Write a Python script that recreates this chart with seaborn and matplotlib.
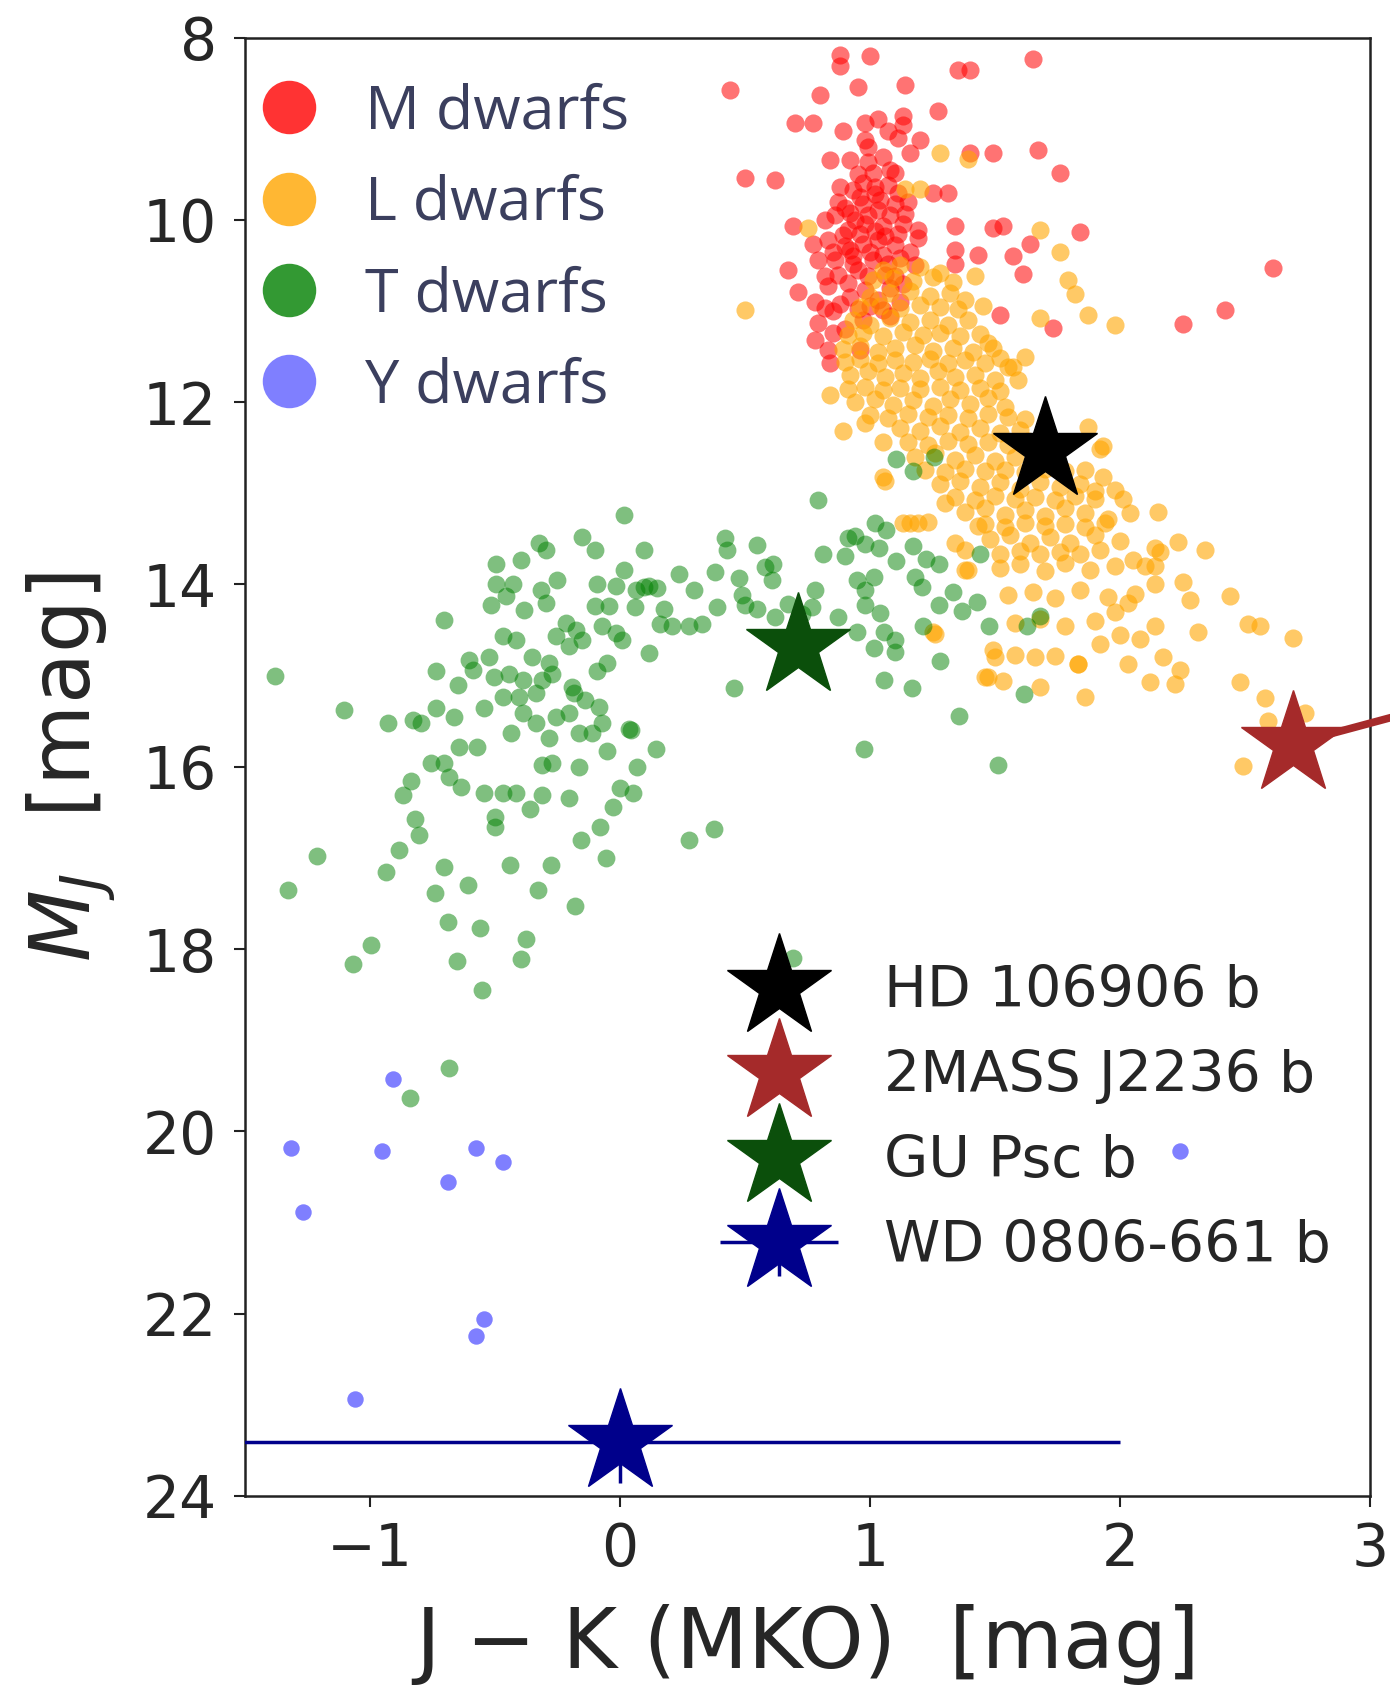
import numpy as np
import pandas as pd
import matplotlib
matplotlib.use("Agg")
import matplotlib.pyplot as plt
from matplotlib.lines import Line2D
from matplotlib.legend_handler import HandlerErrorbar
import seaborn as sns

# (J-K, M_J) pairs for the field populations
m_dwarfs = [
    (0.44, 8.57), (0.88, 8.19), (0.88, 8.31), (1.00, 8.20), (1.35, 8.36), (1.40, 8.36), (1.65, 8.24),
    (0.80, 8.63), (0.95, 8.54), (1.14, 8.52), (1.27, 8.81), (0.70, 8.94), (0.77, 8.94), (0.89, 9.02),
    (0.98, 8.94), (1.03, 8.89), (1.13, 8.86), (1.13, 8.96), (1.07, 9.02), (1.11, 9.10), (1.20, 9.12),
    (0.98, 9.12), (0.99, 9.20), (1.16, 9.27), (1.40, 9.27), (1.49, 9.27), (1.67, 9.23), (1.76, 9.49),
    (0.50, 9.54), (0.62, 9.56), (0.84, 9.34), (0.92, 9.34), (0.99, 9.36), (1.05, 9.31), (1.10, 9.49),
    (1.01, 9.49), (0.88, 9.64), (0.93, 9.67), (0.97, 9.60), (1.02, 9.64), (1.07, 9.62), (1.11, 9.71),
    (1.25, 9.71), (1.31, 9.71), (0.90, 9.87), (0.97, 9.83), (1.03, 9.89), (1.10, 9.83), (1.14, 9.93),
    (0.96, 9.75), (1.04, 9.78), (0.99, 9.95), (0.69, 10.07), (0.82, 10.00), (0.91, 10.11), (0.98, 10.04),
    (1.05, 10.07), (1.11, 10.15), (1.19, 10.11), (0.94, 10.00), (1.06, 10.18), (1.34, 10.07), (1.49, 10.09),
    (1.53, 10.07), (1.64, 10.26), (1.84, 10.13), (0.77, 10.26), (0.83, 10.22), (0.90, 10.29), (0.97, 10.26),
    (1.03, 10.22), (1.10, 10.27), (1.00, 10.35), (0.93, 10.40), (0.67, 10.55), (0.79, 10.44), (0.86, 10.44),
    (0.93, 10.48), (1.01, 10.44), (1.07, 10.48), (0.95, 10.55), (1.06, 10.60), (0.87, 10.60), (1.34, 10.33),
    (1.43, 10.39), (1.34, 10.48), (1.57, 10.40), (1.61, 10.59), (1.18, 10.50), (1.19, 10.20), (1.16, 10.35),
    (0.71, 10.79), (0.83, 10.73), (0.91, 10.69), (0.98, 10.77), (1.03, 10.88), (1.10, 10.62), (1.08, 10.75),
    (0.92, 10.85), (1.12, 10.90), (0.88, 10.92), (1.00, 10.95), (1.52, 11.04), (1.73, 11.19), (0.79, 11.13),
    (0.85, 11.00), (0.85, 11.24), (0.97, 11.10), (1.05, 10.99), (0.83, 11.43), (0.84, 11.57), (0.96, 11.43),
    (0.82, 10.97), (2.61, 10.53), (2.42, 10.99), (2.25, 11.14),
    (0.86, 9.95), (0.92, 9.92), (1.08, 9.95), (0.89, 10.17), (0.96, 10.15), (1.02, 10.12), (1.13, 10.05),
    (0.85, 10.35), (0.92, 10.33), (1.05, 10.38), (1.12, 10.42), (0.82, 10.62), (0.99, 10.62), (1.13, 10.70),
    (0.78, 10.90), (0.95, 10.98), (1.08, 11.05), (0.90, 11.20), (0.78, 11.32), (1.02, 9.72), (0.95, 9.50),
    (1.08, 9.45), (0.87, 9.80), (1.15, 9.80),
]

l_dwarfs = [
    (1.28, 9.27), (1.39, 9.33), (1.14, 9.66), (1.20, 9.66), (0.75, 10.09), (1.68, 10.11), (1.76, 10.35),
    (1.79, 10.66), (1.82, 10.81), (1.87, 11.04), (1.98, 11.15), (1.68, 11.08), (0.50, 10.99), (1.42, 10.62),
    (1.45, 10.95), (1.62, 11.50), (1.49, 11.41), (1.57, 11.61), (0.84, 11.92), (0.89, 12.32), (1.05, 12.44),
    (1.87, 12.27), (1.93, 12.48), (1.59, 11.76), (1.55, 11.61), (0.98, 12.23), (1.05, 12.82), (1.92, 12.51),
    (1.93, 12.82), (1.98, 12.96), (2.01, 13.06), (2.04, 13.22), (2.15, 13.20), (1.30, 13.11), (1.13, 13.33),
    (1.16, 13.33), (1.19, 13.33), (1.23, 13.31), (1.43, 13.36), (1.38, 13.84), (2.14, 13.60), (2.14, 13.80),
    (1.05, 10.55), (1.12, 10.50), (1.20, 10.52), (1.28, 10.58),
    (1.01, 10.66), (1.09, 10.64), (1.17, 10.67), (1.25, 10.63), (1.33, 10.68),
    (1.00, 10.85), (1.08, 10.80), (1.16, 10.78), (1.24, 10.83), (1.32, 10.80), (1.38, 10.88),
    (0.96, 10.96), (1.04, 10.94), (1.12, 10.97), (1.20, 10.93), (1.28, 10.96), (1.35, 10.98),
    (0.93, 11.10), (1.00, 11.15), (1.08, 11.08), (1.16, 11.12), (1.24, 11.10), (1.31, 11.15), (1.39, 11.10),
    (0.91, 11.26), (0.97, 11.24), (1.05, 11.27), (1.13, 11.23), (1.21, 11.26), (1.28, 11.24), (1.36, 11.27),
    (1.44, 11.25),
    (0.89, 11.42), (0.96, 11.38), (1.03, 11.45), (1.10, 11.40), (1.18, 11.37), (1.25, 11.44), (1.33, 11.40),
    (1.41, 11.45), (1.47, 11.35),
    (0.90, 11.56), (0.96, 11.53), (1.03, 11.57), (1.10, 11.54), (1.17, 11.56), (1.24, 11.53), (1.31, 11.57),
    (1.38, 11.54), (1.46, 11.57), (1.52, 11.52),
    (0.92, 11.70), (0.99, 11.66), (1.06, 11.72), (1.13, 11.68), (1.20, 11.74), (1.27, 11.66), (1.34, 11.72),
    (1.42, 11.70), (1.50, 11.76),
    (0.91, 11.86), (0.98, 11.83), (1.05, 11.87), (1.12, 11.84), (1.20, 11.86), (1.28, 11.83), (1.36, 11.87),
    (1.44, 11.84), (1.52, 11.88),
    (0.94, 12.00), (1.02, 11.96), (1.09, 12.03), (1.17, 11.98), (1.25, 12.04), (1.32, 11.97), (1.40, 12.02),
    (1.47, 11.95), (1.54, 12.05),
    (1.00, 12.14), (1.07, 12.17), (1.15, 12.13), (1.23, 12.16), (1.31, 12.14), (1.39, 12.17), (1.47, 12.13),
    (1.55, 12.16), (1.62, 12.18),
    (1.12, 12.28), (1.20, 12.32), (1.28, 12.26), (1.36, 12.33), (1.44, 12.28), (1.52, 12.34), (1.60, 12.30),
    (1.15, 12.44), (1.23, 12.47), (1.31, 12.43), (1.39, 12.46), (1.47, 12.44), (1.55, 12.47), (1.63, 12.43),
    (1.70, 12.48),
    (1.18, 12.60), (1.26, 12.56), (1.34, 12.63), (1.42, 12.58), (1.50, 12.64), (1.58, 12.60), (1.66, 12.66),
    (1.22, 12.74), (1.30, 12.77), (1.38, 12.73), (1.46, 12.76), (1.54, 12.74), (1.62, 12.77), (1.70, 12.73),
    (1.78, 12.76), (1.86, 12.74),
    (1.28, 12.90), (1.36, 12.86), (1.44, 12.93), (1.52, 12.88), (1.60, 12.95), (1.68, 12.88), (1.76, 12.93),
    (1.84, 12.90), (1.90, 12.97),
    (1.34, 13.04), (1.42, 13.07), (1.50, 13.03), (1.58, 13.06), (1.66, 13.04), (1.74, 13.07), (1.82, 13.03),
    (1.90, 13.06),
    (1.38, 13.20), (1.46, 13.16), (1.54, 13.24), (1.62, 13.18), (1.70, 13.25), (1.78, 13.16), (1.86, 13.22),
    (1.95, 13.28),
    (1.46, 13.34), (1.54, 13.37), (1.62, 13.33), (1.70, 13.36), (1.78, 13.34), (1.86, 13.37), (1.94, 13.33),
    (1.48, 13.50), (1.56, 13.46), (1.64, 13.54), (1.72, 13.48), (1.80, 13.55), (1.90, 13.46), (2.00, 13.52),
    (1.52, 13.66), (1.60, 13.63), (1.68, 13.67), (1.76, 13.64), (1.84, 13.66), (1.92, 13.62),
    (1.52, 13.82), (1.60, 13.78), (1.70, 13.85), (1.78, 13.76), (1.88, 13.84), (1.98, 13.80),
    (1.55, 14.12), (1.65, 14.08), (1.74, 14.15), (1.84, 14.06), (1.95, 14.14), (2.03, 14.20),
    (1.58, 14.42), (1.68, 14.38), (1.78, 14.45), (1.90, 14.40),
    (1.50, 14.79), (1.58, 14.77), (1.66, 14.80), (1.74, 14.78), (1.83, 14.87),
    (2.05, 13.73), (2.10, 13.80), (2.14, 13.99), (2.23, 13.53), (2.34, 13.62), (2.16, 13.64), (2.44, 14.13),
    (2.51, 14.43), (2.56, 14.46), (2.69, 14.59), (2.31, 14.52), (2.14, 14.46), (2.25, 13.97), (2.28, 14.17),
    (2.48, 15.07), (2.58, 15.25), (2.59, 15.50), (2.74, 15.41), (2.49, 15.99), (2.17, 14.79), (2.24, 14.94),
    (2.22, 15.09), (2.12, 15.07), (2.03, 14.87), (1.86, 15.23), (1.68, 15.12), (1.46, 15.01), (1.53, 15.06),
    (1.83, 14.87), (1.25, 14.52), (1.26, 14.54), (1.49, 14.72), (1.47, 15.01), (1.34, 13.55), (1.38, 13.62),
    (1.39, 13.84), (1.06, 12.86), (1.98, 14.30), (2.06, 14.10), (2.00, 14.55), (1.92, 14.65), (2.08, 14.60),
]

t_dwarfs = [
    (0.015, 13.24), (-0.325, 13.55), (-0.297, 13.62), (-0.152, 13.48), (-0.100, 13.62), (0.094, 13.62),
    (-0.497, 13.78), (-0.397, 13.73), (-0.497, 13.99), (-0.430, 13.99), (-0.318, 14.06), (-0.251, 13.95),
    (0.015, 13.84), (-0.092, 13.99), (-0.018, 14.02), (0.062, 14.06), (0.115, 14.02), (-0.517, 14.22),
    (-0.457, 14.13), (-0.384, 14.28), (-0.297, 14.20), (-0.218, 14.42), (-0.100, 14.24), (-0.045, 14.24),
    (-0.072, 14.46), (-0.018, 14.53), (0.009, 14.61), (-0.704, 14.39), (-0.470, 14.57), (-0.416, 14.61),
    (-0.258, 14.57), (-0.178, 14.50), (-0.152, 14.61), (-0.205, 14.68), (-0.524, 14.79), (-0.351, 14.79),
    (-0.285, 14.86), (0.115, 14.75), (-0.051, 14.86), (-0.092, 14.95), (-0.737, 14.95), (-0.603, 14.83),
    (-0.590, 14.94), (-0.504, 15.02), (-0.444, 14.98), (-0.390, 15.05), (-0.650, 15.10), (-0.311, 15.05),
    (-0.271, 14.98), (-0.191, 15.12), (-0.185, 15.19), (-0.470, 15.23), (-0.404, 15.23), (-0.338, 15.19),
    (-1.103, 15.38), (-0.930, 15.52), (-0.830, 15.49), (-0.797, 15.52), (-0.737, 15.36), (-0.664, 15.45),
    (-0.544, 15.36), (-0.390, 15.41), (-0.338, 15.52), (-0.258, 15.45), (-0.205, 15.41), (-0.139, 15.27),
    (-0.085, 15.34), (-0.072, 15.52), (-0.437, 15.63), (-0.285, 15.68), (-0.165, 15.63), (-0.112, 15.63),
    (0.042, 15.60), (-0.644, 15.78), (-0.571, 15.78), (-0.051, 15.83), (-0.757, 15.96), (-0.704, 15.96),
    (-0.684, 16.11), (-0.311, 15.98), (-0.271, 15.96), (-0.165, 16.00), (0.068, 16.00), (0.142, 15.80),
    (-0.837, 16.16), (-0.870, 16.31), (-0.637, 16.22), (-0.544, 16.29), (-0.470, 16.29), (-0.416, 16.29),
    (-0.311, 16.31), (-0.205, 16.34), (0.000, 16.23), (0.050, 16.29),
    (-1.380, 15.00), (-1.214, 16.98), (-1.330, 17.35), (-0.822, 16.57), (-0.804, 16.75), (-0.884, 16.91),
    (-0.938, 17.15), (-0.706, 17.10), (-0.742, 17.39), (-0.608, 17.30), (-0.359, 16.46), (-0.500, 16.55),
    (-0.500, 16.66), (-0.158, 16.80), (-0.082, 16.66), (-0.055, 17.00), (-0.029, 16.44), (0.274, 16.80),
    (0.377, 16.68), (-0.440, 17.08), (-0.278, 17.08), (-0.330, 17.35),
    (0.793, 13.07), (0.420, 13.49), (0.427, 13.62), (0.547, 13.57), (0.813, 13.66), (0.913, 13.49),
    (0.900, 13.69), (0.094, 14.03), (0.148, 14.04), (0.234, 13.88), (0.294, 14.06), (0.380, 13.86),
    (0.474, 13.93), (0.580, 13.81), (0.613, 13.77), (0.607, 13.95), (0.061, 14.25), (0.174, 14.27),
    (0.161, 14.43), (0.208, 14.46), (0.274, 14.45), (0.328, 14.43), (0.387, 14.25), (0.487, 14.12),
    (0.500, 14.23), (0.547, 14.27), (0.620, 14.36), (0.673, 14.21), (0.780, 14.06), (0.766, 14.25),
    (0.726, 14.32), (0.873, 14.36), (0.454, 15.14), (0.034, 15.58),
    (1.105, 12.62), (1.173, 12.76), (1.255, 12.60), (1.020, 13.33), (1.064, 13.40), (0.940, 13.47),
    (0.980, 13.56), (1.036, 13.60), (1.173, 13.58), (1.105, 13.74), (1.222, 13.72), (1.277, 13.77),
    (1.440, 13.67), (0.946, 13.95), (1.016, 13.92), (1.180, 13.92), (1.208, 14.03), (0.980, 14.06),
    (0.980, 14.22), (1.040, 14.31), (1.332, 14.08), (1.277, 14.22), (1.366, 14.29), (1.428, 14.19),
    (1.476, 14.46), (1.210, 14.46), (1.627, 14.46), (1.680, 14.35), (0.947, 14.52), (1.016, 14.70),
    (1.057, 14.52), (1.098, 14.61), (1.098, 14.74), (1.280, 14.84), (1.057, 15.05), (1.167, 15.14),
    (1.614, 15.20), (1.357, 15.44), (0.974, 15.81), (1.510, 15.98),
    (-1.068, 18.16), (-0.996, 17.95), (-0.688, 17.70), (-0.559, 17.77), (-0.654, 18.13), (-0.398, 18.11),
    (-0.375, 17.89), (-0.554, 18.45), (-0.179, 17.53), (-0.684, 19.30), (-0.839, 19.63), (0.690, 18.10),
]

y_dwarfs = [
    (-0.907, 19.42), (-1.318, 20.18), (-0.952, 20.21), (-0.577, 20.18), (-0.468, 20.34), (-0.688, 20.55),
    (-1.268, 20.88), (-0.546, 22.06), (-0.577, 22.24), (-1.059, 22.94), (2.240, 20.22),
]

# Named companions
companions = ["HD 106906 b", "2MASS J2236 b", "GU Psc b", "WD 0806-661 b"]
comp_jk = [1.70, 2.69, 0.71, 0.00]
comp_mj = [12.52, 15.75, 14.68, 23.41]
comp_colors = ["black", "#a52a2a", "#0b4f0b", "#00008b"]
wd_jk_err = 2.0
wd_mj_err = 0.45
j2236_pointer_end = (3.30, 15.30)

dwarf_labels = ["M dwarfs", "L dwarfs", "T dwarfs", "Y dwarfs"]
dwarf_colors = ["red", "orange", "green", "blue"]

sns.set_style("ticks")
plt.rcParams["font.family"] = ["DejaVu Sans"]
plt.rcParams["mathtext.fontset"] = "dejavusans"

fig = plt.figure(figsize=(13.9, 16.86), dpi=100)
ax = fig.add_axes([0.1763, 0.1127, 0.8094, 0.8650])


def as_frame(points):
    arr = np.asarray(points, dtype=float)
    return pd.DataFrame({"jk": arr[:, 0], "mj": arr[:, 1]})


populations = [m_dwarfs, l_dwarfs, t_dwarfs, y_dwarfs]
pop_alpha = [0.55, 0.6, 0.5, 0.5]
pop_size = [170, 170, 165, 140]
for pts, col, a, s in zip(populations, dwarf_colors, pop_alpha, pop_size):
    sns.scatterplot(data=as_frame(pts), x="jk", y="mj", color=col, alpha=a, s=s,
                    linewidth=0, ax=ax, legend=False, zorder=2)

# Pointer line from 2MASS J2236 b running off the right edge
ax.plot([comp_jk[1], j2236_pointer_end[0]], [comp_mj[1], j2236_pointer_end[1]],
        color=comp_colors[1], lw=5.5, clip_on=False, zorder=3, solid_capstyle="butt")

star_ms = 78
star_handles = []
for i in range(3):
    (h,) = ax.plot([comp_jk[i]], [comp_mj[i]], ls="none", marker="*", ms=star_ms,
                   color=comp_colors[i], mec=comp_colors[i], zorder=4)
    star_handles.append(h)
wd = ax.errorbar([comp_jk[3]], [comp_mj[3]], xerr=[wd_jk_err], yerr=[wd_mj_err],
                 fmt="*", ms=star_ms, color=comp_colors[3], mec=comp_colors[3],
                 elinewidth=2.5, capsize=0, zorder=4)
star_handles.append(wd)

ax.set_xlim(-1.5, 3)
ax.set_ylim(24, 8)
ax.set_xticks([-1, 0, 1, 2, 3])
ax.set_yticks(list(range(8, 25, 2)))
ax.tick_params(axis="both", labelsize=42, length=8, width=1.5, direction="out", color="#222222")
ax.tick_params(axis="y", pad=12)
ax.tick_params(axis="x", pad=10)
for sp in ax.spines.values():
    sp.set_visible(True)
    sp.set_linewidth(1.8)
    sp.set_color("#222222")

ax.set_xlabel("J \u2212 K (MKO)  [mag]", fontsize=60, labelpad=19)
ax.set_ylabel(r"$M_J$  [mag]", fontsize=60, labelpad=18)

dwarf_handles = [Line2D([], [], ls="none", marker="o", ms=38.5, mew=0, color=c, alpha=a)
                 for c, a in zip(dwarf_colors, [0.8, 0.8, 0.8, 0.5])]
leg1 = ax.legend(dwarf_handles, dwarf_labels, loc="upper left", bbox_to_anchor=(0.0116, 0.969),
                 frameon=False, borderpad=0, borderaxespad=0, handlelength=1.0,
                 handletextpad=0.75, labelspacing=0.51,
                 prop={"family": ["Open Sans", "DejaVu Sans"], "size": 44}, labelcolor="#3b3f5e")
ax.add_artist(leg1)

leg2 = ax.legend(star_handles, companions, loc="upper left", bbox_to_anchor=(0.424, 0.365),
                 frameon=False, borderpad=0, borderaxespad=0, handlelength=2.0,
                 handletextpad=0.84, labelspacing=0.53, fontsize=41,
                 handler_map={wd: HandlerErrorbar(xerr_size=1.04, yerr_size=0.6)})

fig.savefig("out.png", dpi=100)
